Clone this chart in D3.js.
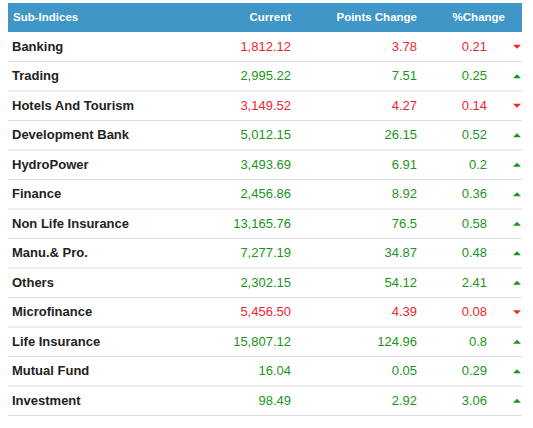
<!DOCTYPE html><html><head><meta charset="utf-8"><script src="https://cdn.jsdelivr.net/npm/d3@7"></script>
<style>body{margin:0;background:#fff}</style></head><body><script>
const headers=["Sub-Indices","Current","Points Change","%Change"];
const names=["Banking","Trading","Hotels And Tourism","Development Bank","HydroPower","Finance","Non Life Insurance","Manu.& Pro.","Others","Microfinance","Life Insurance","Mutual Fund","Investment"];
const current=["1,812.12","2,995.22","3,149.52","5,012.15","3,493.69","2,456.86","13,165.76","7,277.19","2,302.15","5,456.50","15,807.12","16.04","98.49"];
const points=["3.78","7.51","4.27","26.15","6.91","8.92","76.5","34.87","54.12","4.39","124.96","0.05","2.92"];
const pct=["0.21","0.25","0.14","0.52","0.2","0.36","0.58","0.48","2.41","0.08","0.8","0.29","3.06"];
const up=[false,true,false,true,true,true,true,true,true,false,true,true,true];
const W=533,H=428;
const svg=d3.select("body").append("svg").attr("width",W).attr("height",H).style("font-family","Liberation Sans, Arial, sans-serif");
const y=d3.scaleBand().domain(d3.range(names.length)).range([32,415.5]);
svg.append("rect").attr("x",8).attr("y",3).attr("width",514).attr("height",29).attr("fill","#4196c8");
const hx=[13,291,417,505],ha=["start","end","end","end"];
headers.forEach((h,i)=>svg.append("text").attr("x",hx[i]).attr("y",21).attr("text-anchor",ha[i]).attr("fill","#fff").attr("font-weight","bold").attr("font-size",11.5).text(h));
const red="#f0262f",green="#1b951b";
const g=svg.selectAll("g.r").data(names).join("g").attr("transform",(d,i)=>`translate(0,${y(i)})`);
const bw=y.bandwidth();
g.append("line").attr("x1",8).attr("x2",522).attr("y1",bw).attr("y2",bw).attr("stroke","#dcdcdc");
g.append("text").attr("x",12).attr("y",bw/2+4).attr("font-size",13).attr("font-weight","bold").attr("fill","#222").text(d=>d);
const col=(i)=>up[i]?green:red;
g.append("text").attr("x",291).attr("y",bw/2+4).attr("text-anchor","end").attr("font-size",13).attr("fill",(d,i)=>col(i)).text((d,i)=>current[i]);
g.append("text").attr("x",417).attr("y",bw/2+4).attr("text-anchor","end").attr("font-size",13).attr("fill",(d,i)=>col(i)).text((d,i)=>points[i]);
g.append("text").attr("x",487).attr("y",bw/2+4).attr("text-anchor","end").attr("font-size",13).attr("fill",(d,i)=>col(i)).text((d,i)=>pct[i]);
g.append("path").attr("d",(d,i)=>up[i]?`M513,${bw/2+2}L521,${bw/2+2}L517,${bw/2-2}Z`:`M513,${bw/2-2}L521,${bw/2-2}L517,${bw/2+2}Z`).attr("fill",(d,i)=>col(i));
</script></body></html>
